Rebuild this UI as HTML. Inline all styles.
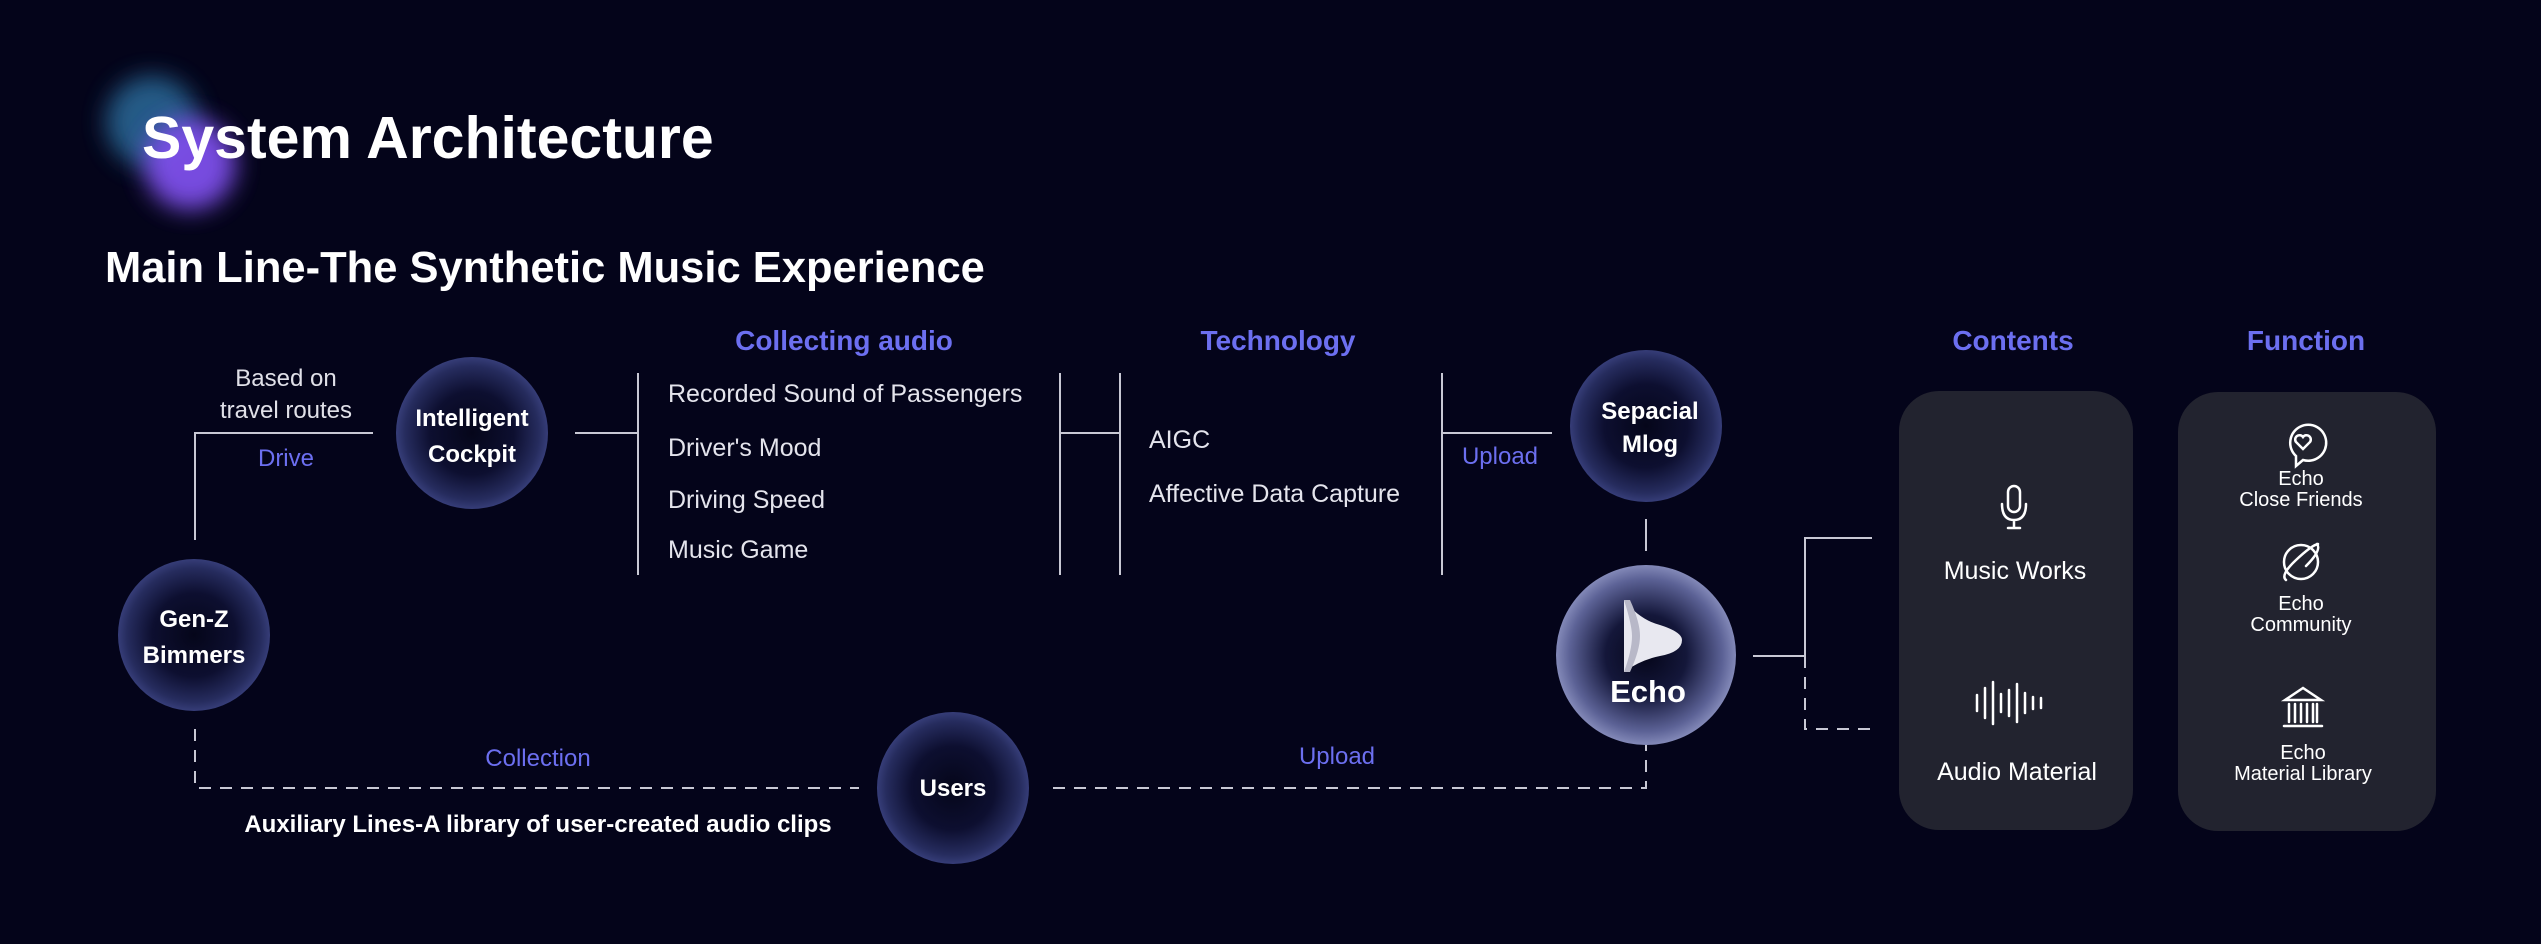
<!DOCTYPE html>
<html><head><meta charset="utf-8">
<style>
html,body{margin:0;padding:0;background:#04041a;}
svg{display:block;}
text{font-family:"Liberation Sans",sans-serif;}
</style></head>
<body>
<svg width="2541" height="944" viewBox="0 0 2541 944" xmlns="http://www.w3.org/2000/svg">
<defs>
<radialGradient id="node" cx="50%" cy="50%" r="50%">
<stop offset="0" stop-color="#05061a"/>
<stop offset="0.55" stop-color="#0d0f30"/>
<stop offset="0.88" stop-color="#262c5e"/>
<stop offset="1" stop-color="#363d78"/>
</radialGradient>
<radialGradient id="echo" cx="50%" cy="50%" r="50%">
<stop offset="0" stop-color="#05061a"/>
<stop offset="0.45" stop-color="#14173a"/>
<stop offset="0.85" stop-color="#5c6296"/>
<stop offset="1" stop-color="#8389b8"/>
</radialGradient>
<filter id="blur" x="-1" y="-1" width="3" height="3"><feGaussianBlur stdDeviation="12"/></filter>
</defs>
<rect width="2541" height="944" fill="#04041a"/>
<circle cx="152" cy="122" r="46" fill="#2a6a9a" opacity="0.85" filter="url(#blur)"/>
<circle cx="190" cy="164" r="46" fill="#7e50ea" opacity="0.95" filter="url(#blur)"/>
<text x="142" y="158" font-size="59" font-weight="bold" fill="#fff">System Architecture</text>
<text x="105" y="282" font-size="43.5" font-weight="bold" fill="#fff">Main Line-The Synthetic Music Experience</text>

<g stroke="#c8c8d4" stroke-width="2" fill="none">
<path d="M195 540 V433 H373"/>
<path d="M575 433 H638"/>
<path d="M638 373 V575"/>
<path d="M1060 373 V575"/>
<path d="M1060 433 H1120"/>
<path d="M1120 373 V575"/>
<path d="M1442 373 V575"/>
<path d="M1442 433 H1552"/>
<path d="M1646 519 V551"/>
<path d="M1753 656 H1805 V538 H1872"/>
<g stroke-dasharray="12 9">
<path d="M1805 656 V729 H1872"/>
<path d="M195 729 V788 H859"/>
<path d="M1053 788 H1646 V745"/>
</g>
</g>

<g font-size="24" fill="#e0e0e8" text-anchor="middle">
<text x="286" y="386">Based on</text>
<text x="286" y="418">travel routes</text>
</g>
<g font-size="24" fill="#6c6ff0" text-anchor="middle">
<text x="286" y="466">Drive</text>
<text x="1500" y="464">Upload</text>
<text x="538" y="766">Collection</text>
<text x="1337" y="764">Upload</text>
</g>
<text x="538" y="832" font-size="24" font-weight="bold" fill="#fff" text-anchor="middle">Auxiliary Lines-A library of user-created audio clips</text>

<g font-size="28" font-weight="bold" fill="#6c6ff0" text-anchor="middle">
<text x="844" y="350">Collecting audio</text>
<text x="1278" y="350">Technology</text>
<text x="2013" y="350">Contents</text>
<text x="2306" y="350">Function</text>
</g>
<g font-size="25" fill="#e4e4ec">
<text x="668" y="402">Recorded Sound of Passengers</text>
<text x="668" y="456">Driver's Mood</text>
<text x="668" y="508">Driving Speed</text>
<text x="668" y="558">Music Game</text>
<text x="1149" y="448">AIGC</text>
<text x="1149" y="502">Affective Data Capture</text>
</g>

<circle cx="472" cy="433" r="76" fill="url(#node)"/>
<circle cx="194" cy="635" r="76" fill="url(#node)"/>
<circle cx="953" cy="788" r="76" fill="url(#node)"/>
<circle cx="1646" cy="426" r="76" fill="url(#node)"/>
<circle cx="1646" cy="655" r="90" fill="url(#echo)"/>
<g font-size="24" font-weight="bold" fill="#fff" text-anchor="middle">
<text x="472" y="426">Intelligent</text>
<text x="472" y="462">Cockpit</text>
<text x="194" y="627">Gen-Z</text>
<text x="194" y="663">Bimmers</text>
<text x="953" y="796">Users</text>
<text x="1650" y="419">Sepacial</text>
<text x="1650" y="452">Mlog</text>
</g>
<path d="M1624 600 Q1640 620 1660 625 Q1682 632 1682 640 Q1682 652 1660 656 Q1640 660 1624 672 Z" fill="#e8e8f0"/>
<path d="M1624 600 Q1632 625 1632 636 Q1632 650 1624 672 L1630 672 Q1640 650 1640 636 Q1640 622 1630 600 Z" fill="#b8b8c8"/>
<text x="1648" y="702" font-size="31" font-weight="bold" fill="#fff" text-anchor="middle">Echo</text>

<rect x="1899" y="391" width="234" height="439" rx="40" fill="#22232f"/>
<rect x="2178" y="392" width="258" height="439" rx="40" fill="#22232f"/>

<g stroke="#fff" stroke-width="2.5" fill="none" stroke-linecap="round">
<rect x="2008" y="486" width="12" height="26" rx="6"/>
<path d="M2002 504 Q2002 520 2014 520 Q2026 520 2026 504 M2014 520 V528 M2008 528 H2020"/>
<path d="M1977 695 V711 M1985 688 V718 M1993 682 V724 M2001 694 V712 M2009 690 V716 M2017 684 V722 M2025 693 V713 M2033 697 V709 M2041 698 V708"/>
<path d="M2303 460 L2296 466 V456 A18 18 0 1 1 2303 460 Z"/>
<path d="M2303 449 L2296 442 A4 4 0 0 1 2303 437 A4 4 0 0 1 2310 442 Z"/>
<circle cx="2301" cy="562" r="17"/>
<path d="M2286 580 Q2280 575 2296 560 Q2312 545 2318 544 M2317 544 Q2322 550 2306 566"/>
<path d="M2285 700 L2303 688 L2321 700 Z M2289 704 V722 M2295 704 V722 M2301 704 V722 M2307 704 V722 M2313 704 V722 M2317 704 V722 M2284 726 H2322"/>
</g>
<g font-size="25" fill="#fff" text-anchor="middle">
<text x="2015" y="579">Music Works</text>
<text x="2017" y="780">Audio Material</text>
</g>
<g font-size="20" fill="#fff" text-anchor="middle">
<text x="2301" y="485">Echo</text>
<text x="2301" y="506">Close Friends</text>
<text x="2301" y="610">Echo</text>
<text x="2301" y="631">Community</text>
<text x="2303" y="759">Echo</text>
<text x="2303" y="780">Material Library</text>
</g>
</svg>
</body></html>
